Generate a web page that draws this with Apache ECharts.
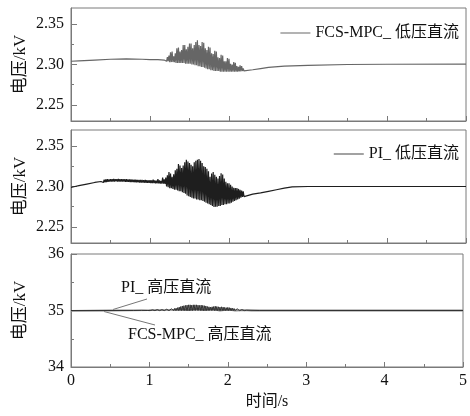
<!DOCTYPE html>
<html><head><meta charset="utf-8">
<script src="https://cdn.jsdelivr.net/npm/echarts@6/dist/echarts.min.js"></script>
<style>html,body{margin:0;padding:0;background:#fff}#c{width:470px;height:416px}</style>
</head><body><div id="c"></div>
<script>
// ---- data ----
var xTicks = [0, 1, 2, 3, 4, 5];
var lowTickLabels = [2.25, 2.30, 2.35];
var lowMinorTicks = [2.275, 2.325];

var nameFcsLow = 'FCS-MPC_ 低压直流';
var namePiLow = 'PI_ 低压直流';
var namePiHigh = 'PI_ 高压直流';
var nameFcsHigh = 'FCS-MPC_ 高压直流';

// ---- FCS-MPC low-voltage DC (kV) ----
var tFcsLowA = [0, 0.1, 0.3, 0.5, 0.7, 0.9, 1.0, 1.1, 1.18];
var vFcsLowA = [2.304, 2.3045, 2.3055, 2.3065, 2.307, 2.3065, 2.306, 2.306, 2.3055];
// oscillation: crest/trough pairs starting at 1.20 s, one pair per 0.02 s
var oscStartFcsLow = 1.20;
var hiFcsLow = [2.307, 2.309, 2.311, 2.315, 2.316, 2.310, 2.314, 2.320, 2.321, 2.316,
  2.318, 2.324, 2.324, 2.319, 2.322, 2.326, 2.326, 2.320, 2.324, 2.328,
  2.330, 2.324, 2.323, 2.328, 2.327, 2.320, 2.318, 2.322, 2.321, 2.314,
  2.313, 2.317, 2.316, 2.309, 2.308, 2.312, 2.311, 2.304, 2.304, 2.308,
  2.307, 2.301, 2.300, 2.303, 2.302, 2.298, 2.297, 2.299, 2.298, 2.295];
var loFcsLow = [2.304, 2.304, 2.303, 2.303, 2.303, 2.303, 2.302, 2.302, 2.302, 2.302,
  2.302, 2.302, 2.301, 2.301, 2.301, 2.301, 2.300, 2.300, 2.299, 2.299,
  2.298, 2.298, 2.297, 2.297, 2.296, 2.295, 2.294, 2.294, 2.293, 2.293,
  2.292, 2.292, 2.292, 2.292, 2.291, 2.291, 2.291, 2.291, 2.291, 2.291,
  2.291, 2.291, 2.291, 2.291, 2.291, 2.291, 2.2915, 2.2915, 2.292, 2.292];
var tFcsLowB = [2.20, 2.3, 2.4, 2.5, 2.7, 3.0, 3.5, 4.0, 5.0];
var vFcsLowB = [2.2925, 2.2935, 2.295, 2.2965, 2.298, 2.299, 2.300, 2.3003, 2.3005];

// ---- PI low-voltage DC (kV) ----
var tPiLowA = [0, 0.02, 0.05, 0.1, 0.2, 0.3, 0.38];
var vPiLowA = [2.299, 2.2985, 2.300, 2.301, 2.303, 2.305, 2.3062];
var oscStartPiBand = 0.40;
var hiPiBand = [2.308, 2.3085, 2.3088, 2.309, 2.3088, 2.3092, 2.309, 2.3094, 2.3092, 2.309,
  2.3094, 2.3092, 2.309, 2.3091, 2.3089, 2.309, 2.3087, 2.3086, 2.3088, 2.3085,
  2.3084, 2.3086, 2.3082, 2.3081, 2.3083, 2.308, 2.3079, 2.3081, 2.3077, 2.3076,
  2.3078, 2.3074, 2.3085, 2.3076, 2.3072, 2.309, 2.3074, 2.307, 2.311, 2.309];
var loPiBand = [2.305, 2.3053, 2.3056, 2.3058, 2.306, 2.3061, 2.3062, 2.3062, 2.3063, 2.3062,
  2.3062, 2.3061, 2.306, 2.306, 2.3059, 2.3058, 2.3057, 2.3056, 2.3055, 2.3054,
  2.3053, 2.3052, 2.3051, 2.305, 2.3049, 2.3048, 2.3047, 2.3046, 2.3045, 2.3044,
  2.3043, 2.3042, 2.3041, 2.304, 2.3039, 2.3038, 2.3037, 2.3036, 2.3035, 2.3033];
var oscStartPiLow = 1.20;
var hiPiLow = [2.311, 2.314, 2.318, 2.316, 2.312, 2.315, 2.320, 2.322, 2.328, 2.326,
  2.323, 2.326, 2.330, 2.333, 2.331, 2.329, 2.327, 2.325, 2.330, 2.332,
  2.333, 2.334, 2.332, 2.329, 2.325, 2.324, 2.322, 2.319, 2.312, 2.316,
  2.318, 2.3145, 2.312, 2.310, 2.313, 2.3165, 2.315, 2.310, 2.306, 2.304,
  2.304, 2.302, 2.300, 2.2985, 2.298, 2.298, 2.297, 2.296, 2.295, 2.294];
var loPiLow = [2.300, 2.299, 2.298, 2.298, 2.297, 2.296, 2.296, 2.295, 2.294, 2.294,
  2.293, 2.292, 2.291, 2.289, 2.288, 2.287, 2.286, 2.285, 2.285, 2.284,
  2.284, 2.283, 2.283, 2.282, 2.281, 2.280, 2.279, 2.278, 2.277, 2.276,
  2.2745, 2.275, 2.275, 2.276, 2.276, 2.277, 2.277, 2.278, 2.278, 2.279,
  2.279, 2.280, 2.281, 2.282, 2.283, 2.284, 2.285, 2.286, 2.287, 2.2875];
var tPiLowB = [2.20, 2.3, 2.4, 2.5, 2.6, 2.7, 2.8, 3.0, 5.0];
var vPiLowB = [2.289, 2.2905, 2.292, 2.294, 2.296, 2.298, 2.2995, 2.300, 2.300];

// ---- PI high-voltage DC (kV) ----
var tPiHighA = [0, 0.8, 0.9, 0.98];
var vPiHighA = [35.0, 35.0, 35.002, 35.0];
var oscStartPiHigh = 1.00;
var hiPiHigh = [35.005, 35.008, 35.01, 35.012, 35.01, 35.015, 35.012, 35.018, 35.015, 35.02,
  35.018, 35.022, 35.02, 35.025, 35.03, 35.028, 35.035, 35.04, 35.05, 35.06,
  35.07, 35.08, 35.085, 35.09, 35.095, 35.1, 35.1, 35.095, 35.1, 35.1,
  35.1, 35.095, 35.09, 35.095, 35.09, 35.085, 35.08,
  35.07, 35.065, 35.06, 35.065, 35.07, 35.075, 35.07, 35.065, 35.06, 35.065,
  35.06, 35.055, 35.05, 35.055, 35.05, 35.045, 35.04, 35.035, 35.03, 35.03,
  35.025, 35.02, 35.015, 35.01, 35.008, 35.005];
var loPiHigh = 34.998;
var tPiHighB = [2.26, 2.4, 5.0];
var vPiHighB = [35.0, 35.0, 35.0];

// ---- FCS-MPC high-voltage DC (kV) ----
var tFcsHigh = [0, 0.5, 1.0, 1.3, 1.4, 1.5, 1.6, 1.7, 1.8, 1.9, 2.0, 2.1, 2.2, 2.3, 5.0];
var vFcsHigh = [34.995, 35.0, 35.005, 35.01, 35.02, 35.005, 35.03, 35.005, 35.025, 35.0, 35.015, 35.0, 35.005, 35.0, 35.0];

function pairs(t, v) { return t.map(function (x, i) { return [x, v[i]]; }); }
// crest at start+0.02*i, trough half a step later
function osc(start, hi, lo) {
  var out = [];
  for (var i = 0; i < hi.length; i++) {
    var t0 = +(start + 0.02 * i).toFixed(3);
    out.push([t0, hi[i]]);
    out.push([+(t0 + 0.01).toFixed(3), Array.isArray(lo) ? lo[i] : lo]);
  }
  return out;
}

var fcsLowData = pairs(tFcsLowA, vFcsLowA).concat(osc(oscStartFcsLow, hiFcsLow, loFcsLow), pairs(tFcsLowB, vFcsLowB));
var piLowData = pairs(tPiLowA, vPiLowA).concat(osc(oscStartPiBand, hiPiBand, loPiBand), osc(oscStartPiLow, hiPiLow, loPiLow), pairs(tPiLowB, vPiLowB));
var piHighData = pairs(tPiHighA, vPiHighA).concat(osc(oscStartPiHigh, hiPiHigh, loPiHigh), pairs(tPiHighB, vPiHighB));

var FONT = '"Liberation Serif", "Noto Sans CJK SC", serif';
var AX = '#7a7a7a';
var yNameStyle = { color: '#111', fontSize: 17, fontFamily: FONT };

function xAxis(idx, showLabel) {
  return {
    type: 'value', gridIndex: idx, min: 0, max: 5, interval: 1,
    axisLine: { show: true, lineStyle: { color: AX } },
    axisTick: { show: true, inside: true, length: 5, lineStyle: { color: AX } },
    minorTick: { show: true, splitNumber: 2, length: 3, lineStyle: { color: AX } },
    splitLine: { show: false },
    axisLabel: { show: showLabel, color: '#111', fontSize: 16, fontFamily: FONT, margin: 6,
      customValues: xTicks },
    name: showLabel ? '时间/s' : '', nameLocation: 'middle', nameGap: 27,
    nameTextStyle: { color: '#111', fontSize: 16, fontFamily: FONT }
  };
}
function yLow(idx) {
  return {
    type: 'value', gridIndex: idx, min: 2.23, max: 2.37,
    axisLine: { show: true, lineStyle: { color: AX } },
    axisTick: { show: true, inside: true, length: 6, lineStyle: { color: AX }, customValues: lowTickLabels },
    axisLabel: { color: '#111', fontSize: 16, fontFamily: FONT, margin: 7, customValues: lowTickLabels,
      formatter: function (v) { return v.toFixed(2); } },
    splitLine: { show: false },
    name: '电压/kV', nameLocation: 'middle', nameGap: 42, nameMoveOverlap: false,
    nameTextStyle: yNameStyle
  };
}
function yLowMinor(idx) {
  return {
    type: 'value', gridIndex: idx, min: 2.23, max: 2.37, position: 'left', offset: 0,
    axisLine: { show: false },
    axisTick: { show: true, inside: true, length: 3, lineStyle: { color: AX }, customValues: lowMinorTicks },
    axisLabel: { show: false }, splitLine: { show: false }
  };
}
function legend(name, top) {
  return { data: [name], right: 6, top: top, icon: 'rect', itemWidth: 30, itemHeight: 1, itemGap: 4,
    textStyle: { fontSize: 16, fontFamily: FONT, color: '#111' } };
}

var option = {
  animation: false,
  backgroundColor: '#fff',
  grid: [
    { left: 71, right: 4, top: 8, height: 113, show: true, borderColor: AX, borderWidth: 1, backgroundColor: 'transparent' },
    { left: 71, right: 4, top: 130, height: 113, show: true, borderColor: AX, borderWidth: 1, backgroundColor: 'transparent' },
    { left: 71, right: 4, top: 254, height: 113, show: true, borderColor: AX, borderWidth: 1, backgroundColor: 'transparent' }
  ],
  xAxis: [xAxis(0, false), xAxis(1, false), xAxis(2, true)],
  yAxis: [yLow(0), yLow(1), {
    type: 'value', gridIndex: 2, min: 34, max: 36, interval: 1,
    axisLine: { show: true, lineStyle: { color: AX } },
    axisTick: { show: true, inside: true, length: 6, lineStyle: { color: AX } },
    minorTick: { show: true, splitNumber: 2, length: 3, lineStyle: { color: AX } },
    axisLabel: { color: '#111', fontSize: 16, fontFamily: FONT, margin: 7 },
    splitLine: { show: false },
    name: '电压/kV', nameLocation: 'middle', nameGap: 42, nameMoveOverlap: false,
    nameTextStyle: yNameStyle
  }, yLowMinor(0), yLowMinor(1)],
  legend: [legend(nameFcsLow, 20), legend(namePiLow, 141)],
  series: [
    { name: nameFcsLow, type: 'line', xAxisIndex: 0, yAxisIndex: 0, symbol: 'none',
      lineStyle: { color: '#666', width: 1.2 }, itemStyle: { color: '#666' },
      data: fcsLowData },
    { name: namePiLow, type: 'line', xAxisIndex: 1, yAxisIndex: 1, symbol: 'none',
      lineStyle: { color: '#1e1e1e', width: 1.2 }, itemStyle: { color: '#444' },
      data: piLowData },
    { name: nameFcsHigh, type: 'line', xAxisIndex: 2, yAxisIndex: 2, symbol: 'none',
      lineStyle: { color: '#8a8a8a', width: 1.8 }, itemStyle: { color: '#8a8a8a' },
      data: pairs(tFcsHigh, vFcsHigh) },
    { name: namePiHigh, type: 'line', xAxisIndex: 2, yAxisIndex: 2, symbol: 'none',
      lineStyle: { color: '#333', width: 1 }, itemStyle: { color: '#333' },
      data: piHighData }
  ],
  graphic: [
    { type: 'line', shape: { x1: 147, y1: 299, x2: 113, y2: 309.5 }, style: { stroke: '#777', lineWidth: 1 } },
    { type: 'line', shape: { x1: 104, y1: 311.5, x2: 155, y2: 325 }, style: { stroke: '#777', lineWidth: 1 } },
    { type: 'text', left: 121, top: 280, style: { text: namePiHigh, fontSize: 16, fontFamily: FONT, fill: '#111' } },
    { type: 'text', left: 128, top: 327, style: { text: nameFcsHigh, fontSize: 16, fontFamily: FONT, fill: '#111' } }
  ]
};
var chart = echarts.init(document.getElementById('c'), null, { renderer: 'canvas' });
chart.setOption(option);
</script></body></html>
